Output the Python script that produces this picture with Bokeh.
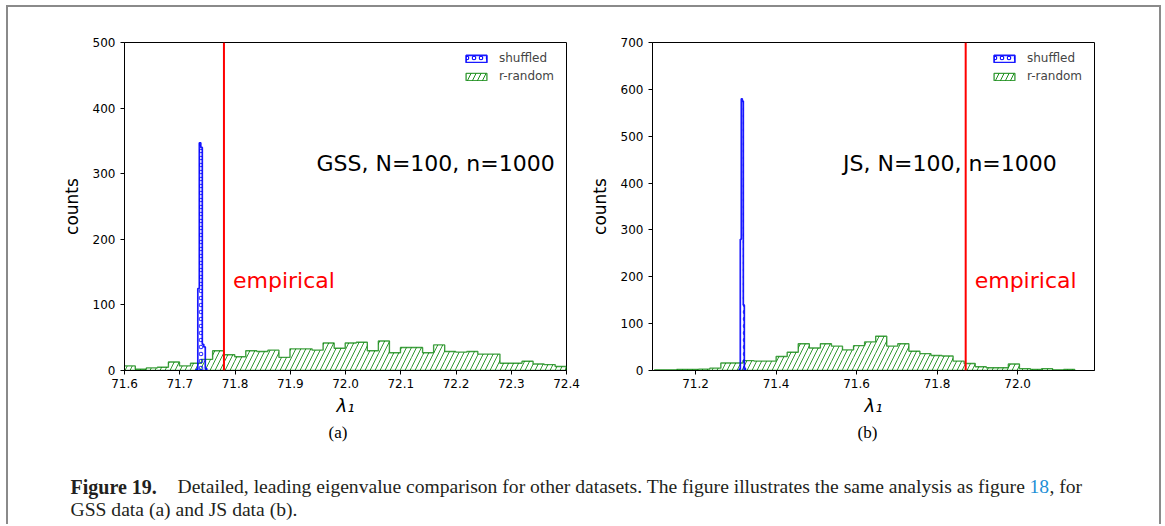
import numpy as np
from bokeh.plotting import figure
from bokeh.models import (FixedTicker, Span, Label, Legend, LegendItem, Title, Range1d)
from bokeh.layouts import row, column
from bokeh.embed import file_html
from bokeh.resources import INLINE
from bokeh.core.properties import value

# ---------------- data: panel (a) GSS ----------------
gss_xlim = [71.6, 72.4]
gss_ylim = [0, 500]
gss_xticks = [71.6, 71.7, 71.8, 71.9, 72.0, 72.1, 72.2, 72.3, 72.4]
gss_yticks = [0, 100, 200, 300, 400, 500]
gss_random_start = 71.5995
gss_random_width = 0.02
gss_random_counts = [7, 2, 4, 5, 13, 7, 11, 17, 30, 24, 21, 30, 29, 31, 20, 33, 33, 31, 42, 34,
                     42, 43, 30, 45, 27, 35, 35, 27, 39, 29, 28, 29, 25, 25, 11, 11, 14, 10, 9, 6]
gss_shuffled_start = 71.7300
gss_shuffled_width = 0.0027
gss_shuffled_counts = [2, 125, 347, 340, 40, 36, 3]
gss_empirical = 71.780

# ---------------- data: panel (b) JS ----------------
js_xlim = [71.093, 72.191]
js_ylim = [0, 700]
js_xticks = [71.2, 71.4, 71.6, 71.8, 72.0]
js_yticks = [0, 100, 200, 300, 400, 500, 600, 700]
js_random_start = 71.098
js_random_width = 0.02747
js_random_counts = [1, 1, 2, 2, 3, 5, 16, 16, 21, 20, 20, 30, 39, 57, 48, 57, 52, 44, 53, 61,
                    73, 52, 57, 41, 36, 32, 31, 20, 15, 8, 6, 6, 14, 4, 2, 4, 1, 2]
js_shuffled_start = 71.3086
js_shuffled_width = 0.0025
js_shuffled_counts = [3, 280, 580, 575, 140, 5]
js_empirical = 71.871

legend_labels = ["shuffled", "r-random"]
xlabel = "λ₁"
ylabel = "counts"

GREEN = "#008000"
BLUE = "#0000ff"
RED = "#ff0000"


def edges(start, width, n):
    return start + width * np.arange(n + 1)


def stairs(e, counts):
    xs = np.repeat(e, 2)
    ys = np.concatenate([[0], np.repeat(np.asarray(counts, dtype=float), 2), [0]])
    return xs, ys


def histogram(p, start, width, counts, color, pattern, scale, weight, line_alpha, lw):
    e = edges(start, width, len(counts))
    # hatched area (no inner bin edges)
    p.quad(left=e[:-1], right=e[1:], bottom=0, top=counts, fill_alpha=0.0, line_alpha=0.0,
           hatch_pattern=pattern, hatch_color=color, hatch_scale=scale, hatch_weight=weight,
           hatch_alpha=0.9)
    xs, ys = stairs(e, counts)
    p.line(xs, ys, line_color=color, line_alpha=line_alpha, line_width=lw)
    # legend proxy: zero-height bars lying on the baseline of the same bins
    return p.quad(left=e[:-1], right=e[1:], bottom=0, top=0, fill_alpha=0.0, line_color=color,
                  line_alpha=line_alpha, line_width=lw, hatch_pattern=pattern,
                  hatch_color=color, hatch_scale=scale, hatch_weight=weight)


def panel(xlim, ylim, xticks, yticks, r_start, r_width, r_counts, s_start, s_width, s_counts,
          empirical, info_text, info_x, info_y, emp_y, letter, width, mb_left, mb_right, letter_offset):
    p = figure(width=width, height=443, x_range=Range1d(*xlim), y_range=Range1d(*ylim),
               output_backend="svg", toolbar_location=None,
               min_border_left=mb_left, min_border_right=mb_right,
               min_border_top=35, min_border_bottom=80)
    p.grid.visible = False
    p.outline_line_color = "black"
    p.outline_line_width = 1
    p.background_fill_color = "white"
    p.border_fill_color = "white"

    rr = histogram(p, r_start, r_width, r_counts, GREEN, "right_diagonal_line", 10, 0.9, 0.75, 1.4)
    sr = histogram(p, s_start, s_width, s_counts, BLUE, "ring", 7, 1.1, 0.9, 1.7)

    p.add_layout(Span(location=empirical, dimension="height", line_color=RED, line_width=2))
    p.add_layout(Label(x=empirical, y=emp_y, x_offset=9, text="empirical", text_color=RED,
                       text_font="DejaVu Sans", text_font_size="22px", text_baseline="middle"))
    p.add_layout(Label(x=info_x, y=info_y, text=info_text, text_color="black",
                       text_font="DejaVu Sans", text_font_size="22px", text_baseline="middle"))

    for ax in (p.xaxis[0], p.yaxis[0]):
        ax.major_tick_out = 4
        ax.major_tick_in = 0
        ax.minor_tick_line_color = None
        ax.axis_line_color = "black"
        ax.major_tick_line_color = "black"
        ax.major_label_text_font = "DejaVu Sans"
        ax.major_label_text_font_size = "12px"
        ax.major_label_text_color = "black"
        ax.axis_label_text_font = "DejaVu Sans"
        ax.axis_label_text_color = "black"
    p.xaxis.ticker = FixedTicker(ticks=xticks)
    p.yaxis.ticker = FixedTicker(ticks=yticks)
    p.xaxis.major_label_overrides = {t: f"{t:.1f}" for t in xticks}
    p.xaxis.major_label_standoff = 4
    p.yaxis.major_label_standoff = 5
    p.xaxis.axis_label = xlabel
    p.xaxis.axis_label_text_font_size = "18px"
    p.xaxis.axis_label_text_font_style = "italic"
    p.xaxis.axis_label_standoff = 4
    p.yaxis.axis_label = ylabel
    p.yaxis.axis_label_text_font_size = "17px"
    p.yaxis.axis_label_text_font_style = "normal"
    p.yaxis.axis_label_standoff = 8

    leg = Legend(items=[LegendItem(label=legend_labels[0], renderers=[sr]),
                        LegendItem(label=legend_labels[1], renderers=[rr])],
                 location="top_right", margin=4, padding=5, spacing=4,
                 glyph_width=26, glyph_height=9, label_width=58, label_height=12,
                 label_standoff=10, label_text_font="DejaVu Sans", label_text_font_size="12px",
                 border_line_alpha=0, background_fill_alpha=0)
    p.add_layout(leg)

    t = Title(text=letter, align="left", offset=letter_offset, text_font="Liberation Serif",
              text_font_size="17px", text_font_style="normal", text_color="black", standoff=4)
    p.add_layout(t, "below")
    return p


pa = panel(gss_xlim, gss_ylim, gss_xticks, gss_yticks, gss_random_start, gss_random_width,
           gss_random_counts, gss_shuffled_start, gss_shuffled_width, gss_shuffled_counts,
           gss_empirical, "GSS, N=100, n=1000", 71.9475, 315, 137, "(a)", 572, 116, 14, 204)
pb = panel(js_xlim, js_ylim, js_xticks, js_yticks, js_random_start, js_random_width,
           js_random_counts, js_shuffled_start, js_shuffled_width, js_shuffled_counts,
           js_empirical, "JS, N=100, n=1000", 71.5665, 442, 192, "(b)", 579, 72, 65, 205)

# ---------------- caption ----------------
cap_w, cap_h = 1151, 74
cap = figure(width=cap_w, height=cap_h, x_range=Range1d(0, cap_w), y_range=Range1d(0, cap_h),
             output_backend="svg", toolbar_location=None, min_border=0)
cap.axis.visible = False
cap.grid.visible = False
cap.outline_line_color = None
serif = value("Liberation Serif")
ink = "#231f20"
cap.text(x=[62], y=[38], text=["Figure 19."], text_font=serif, text_font_size="20px",
         text_font_style="bold", text_color=ink, text_baseline="alphabetic")
cap.text(x=[169], y=[38],
         text=["Detailed, leading eigenvalue comparison for other datasets. The figure illustrates the same analysis as figure"],
         text_font=serif, text_font_size="19.6px", text_color=ink, text_baseline="alphabetic")
cap.text(x=[1021], y=[38], text=["18"], text_font=serif, text_font_size="19.6px",
         text_color="#1e8fd6", text_baseline="alphabetic")
cap.text(x=[1041], y=[38], text=[", for"], text_font=serif, text_font_size="19.6px",
         text_color=ink, text_baseline="alphabetic")
cap.text(x=[62], y=[15], text=["GSS data (a) and JS data (b)."], text_font=serif,
         text_font_size="19.6px", text_color=ink, text_baseline="alphabetic")

layout = column(row(pa, pb), cap, margin=(5, 0, 0, 6),
                styles={"border-left": "2px solid #8a8a8a", "border-right": "2px solid #8a8a8a",
                        "border-top": "2px solid #8a8a8a"})

open("out.html", "w").write(file_html(layout, INLINE))
